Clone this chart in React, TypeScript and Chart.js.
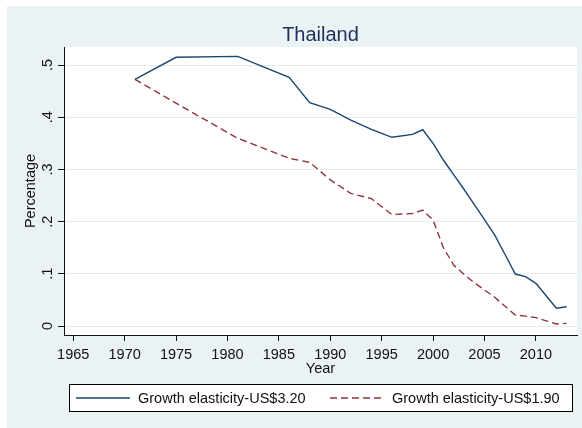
import { useEffect, useRef } from "react";
import { Chart, registerables } from "chart.js";

Chart.register(...registerables);

// Survey years and growth elasticities of poverty for Thailand
const years = [
  1971, 1975, 1981, 1986, 1988, 1990, 1992, 1994, 1996, 1998, 1999, 2000,
  2001, 2002, 2003, 2004, 2005, 2006, 2007, 2008, 2009, 2010, 2011, 2012, 2013,
];
const elasticity320 = [
  0.4726, 0.5148, 0.5166, 0.4764, 0.4278, 0.415, 0.3946, 0.3768, 0.3615, 0.367,
  0.376, 0.35, 0.318, 0.29, 0.262, 0.233, 0.204, 0.174, 0.137, 0.0996, 0.0945,
  0.0817, 0.058, 0.034, 0.037,
];
const elasticity190 = [
  0.4726, 0.4268, 0.3596, 0.3213, 0.3136, 0.28, 0.254, 0.244, 0.2135, 0.2155,
  0.222, 0.203, 0.15, 0.117, 0.099, 0.083, 0.069, 0.055, 0.038, 0.021, 0.019,
  0.016, 0.01, 0.004, 0.005,
];

const seriesLabels = ["Growth elasticity-US$3.20", "Growth elasticity-US$1.90"];
const chartTitle = "Thailand";
const xTitle = "Year";
const yTitle = "Percentage";

const yearTicks = [1965, 1970, 1975, 1980, 1985, 1990, 1995, 2000, 2005, 2010];
const pctTicks = [0, 0.1, 0.2, 0.3, 0.4, 0.5];
const pctTickLabels = ["0", ".1", ".2", ".3", ".4", ".5"];

const FONT = '"Liberation Sans", Arial, Helvetica, sans-serif';
const BG = "#EAF2F3";
const NAVY = "#1A476F";
const MAROON = "#90353B";

// Draws the graph background, titles, tick labels and the boxed legend
const stataDecor = {
  id: "stataDecor",
  beforeDraw(chart: any) {
    const { ctx, chartArea: a } = chart;
    ctx.save();
    ctx.fillStyle = "#ffffff";
    ctx.fillRect(0, 0, chart.width, chart.height);
    ctx.fillStyle = BG;
    ctx.fillRect(7, 6, chart.width - 7, chart.height - 6);
    ctx.fillStyle = "#ffffff";
    ctx.fillRect(a.left, a.top, a.right - a.left, a.bottom - a.top);
    ctx.restore();
  },
  afterDraw(chart: any) {
    const { ctx, chartArea: a, scales } = chart;
    const xs = scales.x;
    const ys = scales.y;
    const cx = (a.left + a.right) / 2;
    const cy = (a.top + a.bottom) / 2;
    ctx.save();

    // title
    ctx.font = `20px ${FONT}`;
    ctx.fillStyle = "#1e2f5a";
    ctx.textAlign = "center";
    ctx.textBaseline = "alphabetic";
    ctx.fillText(chartTitle, cx, a.top - 6);

    // x axis tick labels and title
    ctx.font = `14.5px ${FONT}`;
    ctx.fillStyle = "#111111";
    yearTicks.forEach((v) => {
      ctx.fillText(String(v), xs.getPixelForValue(v), a.bottom + 23.5);
    });
    ctx.fillText(xTitle, cx, a.bottom + 38);

    // y axis tick labels, rotated
    pctTicks.forEach((v, i) => {
      ctx.save();
      ctx.translate(a.left - 12, ys.getPixelForValue(v));
      ctx.rotate(-Math.PI / 2);
      ctx.fillText(pctTickLabels[i], 0, 0);
      ctx.restore();
    });
    ctx.save();
    ctx.translate(a.left - 29.5, cy);
    ctx.rotate(-Math.PI / 2);
    ctx.fillText(yTitle, 0, 0);
    ctx.restore();

    // legend box
    const lx = cx - 251.5;
    const lw = 503;
    const ly = a.bottom + 49;
    const lh = 27;
    ctx.fillStyle = "#ffffff";
    ctx.fillRect(lx, ly, lw, lh);
    ctx.strokeStyle = "#000000";
    ctx.lineWidth = 1;
    ctx.strokeRect(Math.round(lx) + 0.5, Math.round(ly) + 0.5, lw, lh);

    const midY = ly + lh / 2 + 0.5;
    const starts = [lx + 7, lx + 261];
    chart.data.datasets.forEach((ds: any, i: number) => {
      const sx = starts[i];
      ctx.beginPath();
      ctx.strokeStyle = ds.borderColor;
      ctx.lineWidth = 1.4;
      ctx.setLineDash(ds.borderDash || []);
      ctx.moveTo(sx, midY);
      ctx.lineTo(sx + 54, midY);
      ctx.stroke();
      ctx.setLineDash([]);
      ctx.fillStyle = "#111111";
      ctx.font = `14.5px ${FONT}`;
      ctx.textAlign = "left";
      ctx.textBaseline = "alphabetic";
      ctx.fillText(ds.label, sx + 62, midY + 5.2);
    });

    ctx.restore();
  },
};

export default function App() {
  const canvasRef = useRef<HTMLCanvasElement | null>(null);

  useEffect(() => {
    const canvas = canvasRef.current;
    if (!canvas) return;

    const chart = new Chart(canvas, {
      type: "line",
      data: {
        datasets: [
          {
            label: seriesLabels[0],
            data: years.map((x, i) => ({ x, y: elasticity320[i] })),
            borderColor: NAVY,
            borderWidth: 1.4,
            pointRadius: 0,
            tension: 0,
            fill: false,
          },
          {
            label: seriesLabels[1],
            data: years.map((x, i) => ({ x, y: elasticity190[i] })),
            borderColor: MAROON,
            borderWidth: 1.4,
            borderDash: [7, 4],
            pointRadius: 0,
            tension: 0,
            fill: false,
          },
        ],
      },
      plugins: [stataDecor],
      options: {
        responsive: false,
        animation: false,
        devicePixelRatio: 1,
        layout: { padding: { left: 0, top: 47, right: 5, bottom: 0 } },
        plugins: {
          legend: { display: false },
          title: { display: false },
          tooltip: { enabled: false },
        },
        scales: {
          x: {
            type: "linear",
            min: 1964.1,
            max: 2014.0,
            afterBuildTicks: (scale: any) => {
              scale.ticks = yearTicks.map((value) => ({ value }));
            },
            afterFit: (scale: any) => {
              scale.height = 93;
            },
            ticks: { display: false },
            grid: {
              drawOnChartArea: false,
              drawTicks: true,
              tickLength: 6,
              tickColor: "#111111",
              tickWidth: 1,
            },
            border: { display: true, color: "#111111", width: 1 },
          },
          y: {
            type: "linear",
            min: -0.0172,
            max: 0.5345,
            afterBuildTicks: (scale: any) => {
              scale.ticks = pctTicks.map((value) => ({ value }));
            },
            afterFit: (scale: any) => {
              scale.width = 64;
            },
            ticks: { display: false },
            grid: {
              color: "#e3ecee",
              lineWidth: 1,
              drawTicks: true,
              tickLength: 6,
              tickColor: "#111111",
              tickWidth: 1,
            },
            border: { display: true, color: "#111111", width: 1 },
          },
        },
      },
    });

    return () => chart.destroy();
  }, []);

  return (
    <div style={{ position: "fixed", left: 0, top: 0, width: 582, height: 428 }}>
      <canvas ref={canvasRef} width={582} height={428} />
    </div>
  );
}
